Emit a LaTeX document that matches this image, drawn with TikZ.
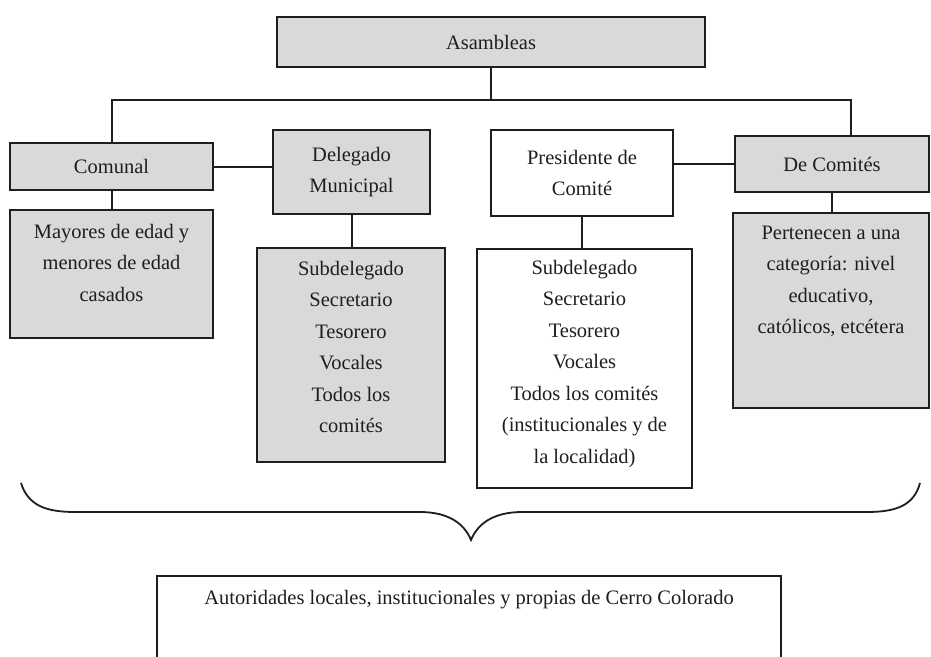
\documentclass[tikz,border=0pt]{standalone}
\usepackage{fontspec}
\setmainfont{Liberation Serif}
\definecolor{boxgray}{HTML}{D9D9D9}
\definecolor{ink}{HTML}{1E1E1E}
\tikzset{
  x=1pt, y=-1pt,
  every node/.style={font=\fontsize{20.5}{31.5}\selectfont, text=ink},
  box/.style={draw=ink, line width=2.1pt, rectangle, inner sep=0pt, align=center},
  graybox/.style={box, fill=boxgray},
  whitebox/.style={box, fill=white},
  lbl/.style={align=center, inner sep=0pt},
  conn/.style={draw=ink, line width=2pt}
}
\begin{document}
\begin{tikzpicture}
\clip (0,0) rectangle (931,656);
\fill[white] (0,0) rectangle (931,656);

% boxes
\node[graybox, minimum width=428pt, minimum height=50pt] (asam) at (491,42) {Asambleas};
\node[graybox, minimum width=203pt, minimum height=47pt] (comunal) at (111.5,166.5) {Comunal};
\node[graybox, minimum width=157pt, minimum height=84pt] (deleg) at (351.5,172) {Delegado\\Municipal};
\node[whitebox, minimum width=182pt, minimum height=86pt] (pres) at (582,173) {Presidente de\\Comité};
\node[graybox, minimum width=194pt, minimum height=56pt] (decom) at (832,164) {De Comités};

\node[graybox, minimum width=203pt, minimum height=128pt] (mayores) at (111.5,274) {};
\node[lbl] (mayorestxt) at (111.5,262.5) {Mayores de edad y\\menores de edad\\casados};

\node[graybox, minimum width=188pt, minimum height=214pt] (subL) at (351,355) {};
\node[lbl] (subLtxt) at (351,347) {Subdelegado\\Secretario\\Tesorero\\Vocales\\Todos los\\comités};

\node[whitebox, minimum width=215pt, minimum height=239pt] (subR) at (584.5,368.5) {};
\node[lbl] (subRtxt) at (584.5,364) {Subdelegado\\Secretario\\Tesorero\\Vocales\\Todos los comités\\(institucionales y de\\la localidad)};

\node[graybox, minimum width=196pt, minimum height=195pt] (pert) at (831,310.5) {};
\node[lbl] (perttxt) at (831,281.5) {Pertenecen a una\\categoría: nivel\\educativo,\\católicos, etcétera};

\node[whitebox, minimum width=624pt, minimum height=124pt] (autor) at (469,638) {};
\node[lbl] (autortxt) at (469,600) {Autoridades locales, institucionales y propias de Cerro Colorado};

% connectors
\draw[conn] (asam.south) -- ++(0,32) coordinate (bus);
\coordinate (decomtop) at ([xshift=19pt]decom.north);
\draw[conn] (comunal.north) |- (bus) -| (decomtop);
\draw[conn] (comunal.east) -- (comunal.east -| deleg.west);
\draw[conn] (decom.west) -- (decom.west -| pres.east);
\draw[conn] (comunal.south) -- (mayores.north);
\draw[conn] (deleg.south) -- (deleg.south |- subL.north);
\draw[conn] (pres.south) -- (pres.south |- subR.north);
\draw[conn] (decom.south) -- (decom.south |- pert.north);

% brace
\draw[draw=ink, line width=1.8pt]
  (21,483) .. controls (28,505) and (45,512) .. (75,512) -- (420,512)
  .. controls (450,512) and (465,525) .. (471,540)
  .. controls (477,525) and (492,512) .. (522,512) -- (867,512)
  .. controls (897,512) and (914,505) .. (920,483);
\end{tikzpicture}
\end{document}
